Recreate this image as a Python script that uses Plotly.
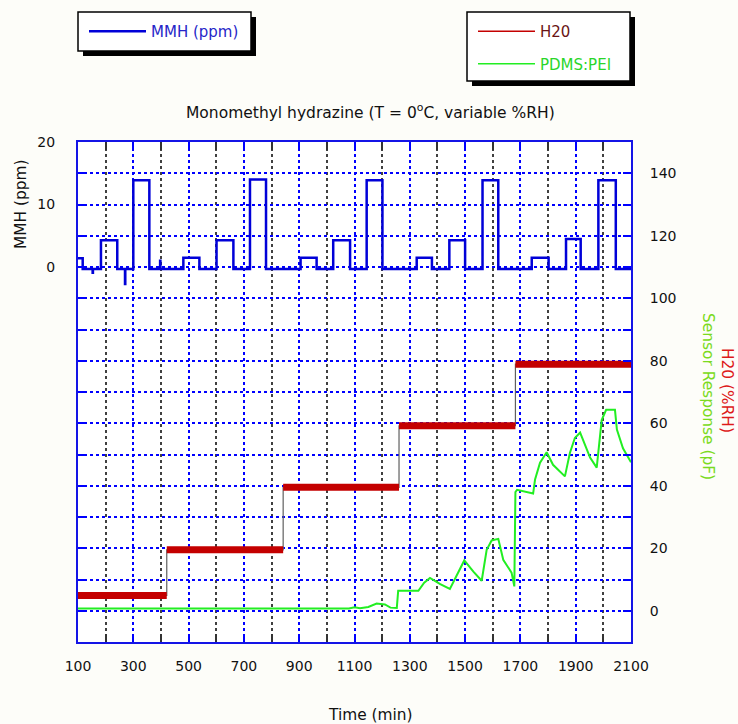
import plotly.graph_objects as go

# ---------------- data ----------------
time_tick0, time_step = 100, 200
mmh_ticks = [0, 10, 20]

# MMH concentration (ppm), step trace: value holds from t[i] to t[i+1]
mmh_t = [100, 117, 153, 154, 183, 242, 270, 271, 300, 358, 397, 398,
         481, 539, 601, 662, 722, 780, 905, 963, 1023, 1084, 1144, 1201,
         1325, 1380, 1443, 1500, 1563, 1620, 1741, 1802, 1865, 1918,
         1982, 2045, 2100]
mmh_v = [1.4, -0.3, -0.9, -0.3, 4.3, -0.3, -2.7, -0.3, 13.9, -0.3, 1.0, -0.3,
         1.5, -0.3, 4.3, -0.3, 14.0, -0.3, 1.5, -0.3, 4.3, -0.3, 13.9, -0.3,
         1.5, -0.3, 4.3, -0.3, 13.9, -0.3, 1.5, -0.3, 4.5, -0.3,
         13.9, -0.3, -0.3]

# Humidity (%RH), step trace
h2o_t = [100, 421, 842, 1261, 1682, 2100]
h2o_v = [4.9, 19.5, 39.5, 59.2, 78.9, 78.9]

# PDMS:PEI sensor response (pF)
pdms_t = [100, 1080, 1100, 1120, 1150, 1180, 1210, 1230, 1253, 1258, 1331,
          1352, 1373, 1410, 1445, 1470, 1497, 1530, 1560, 1578, 1596, 1620,
          1638, 1668, 1678, 1682, 1688, 1746, 1753, 1771, 1795, 1818, 1843,
          1861, 1879, 1897, 1916, 1934, 1952, 1976, 1984, 1994, 2010, 2042,
          2049, 2071, 2100]
pdms_v = [0.7, 0.7, 1.1, 0.8, 1.2, 2.3, 2.0, 1.0, 0.9, 6.4, 6.4,
          9.0, 10.5, 8.5, 7.0, 11.5, 16.1, 12.5, 9.6, 19.5, 22.5, 23.0,
          16.3, 12.2, 7.8, 38.0, 38.7, 37.5, 42.0, 47.4, 50.7, 46.7, 44.6,
          43.0, 50.5, 55.3, 57.0, 53.0, 49.0, 45.8, 53.7, 61.0, 64.3, 64.3,
          58.0, 52.0, 47.5]

# ---------------- layout geometry ----------------
W, H = 738, 724
L, R, T, B = 78, 107, 142, 82
PW, PH = W - L - R, H - T - B


def fx(px):
    return (px - L) / PW


def fy(py):
    return (H - B - py) / PH


FONT = "DejaVu Sans"
BLUE = "#0000ff"
BORDER = "#1414e6"
RED = "#c40000"
GREEN = "#22ee22"

fig = go.Figure()

fig.add_trace(go.Scatter(
    x=mmh_t, y=mmh_v, mode="lines", name="MMH (ppm)",
    line=dict(color="#0000d8", width=2.5, shape="hv"),
    yaxis="y", legend="legend", hoverinfo="skip"))

# thin connector of the humidity steps
fig.add_trace(go.Scatter(
    x=h2o_t, y=h2o_v, mode="lines", showlegend=False,
    line=dict(color="#606060", width=1.2, shape="hv"),
    yaxis="y2", hoverinfo="skip"))

# thick humidity plateaus
seg_x, seg_y = [], []
for i in range(len(h2o_t) - 1):
    seg_x += [h2o_t[i], h2o_t[i + 1], None]
    seg_y += [h2o_v[i], h2o_v[i], None]
fig.add_trace(go.Scatter(
    x=seg_x, y=seg_y, mode="lines", showlegend=False, connectgaps=False,
    line=dict(color=RED, width=7), yaxis="y2", hoverinfo="skip"))

fig.add_trace(go.Scatter(
    x=pdms_t, y=pdms_v, mode="lines", showlegend=False,
    line=dict(color=GREEN, width=2), yaxis="y2", hoverinfo="skip"))

# legend-only entries
fig.add_trace(go.Scatter(
    x=[None], y=[None], mode="lines",
    name="<span style='color:#6a1414'>H20</span>",
    line=dict(color=RED, width=1.5), yaxis="y2",
    legend="legend2", legendgroup="a"))
fig.add_trace(go.Scatter(
    x=[None], y=[None], mode="lines",
    name="<span style='color:#2ad62a'>PDMS:PEI</span>",
    line=dict(color=GREEN, width=1.5), yaxis="y2",
    legend="legend2", legendgroup="b"))

# legend boxes with drop shadows
shapes = []
for (x0, y0, x1, y1) in [(78, 12, 251, 51), (467, 12, 630, 81)]:
    shapes.append(dict(type="rect", xref="paper", yref="paper",
                       x0=fx(x0 + 5), x1=fx(x1 + 5), y0=fy(y1 + 5), y1=fy(y0 + 5),
                       fillcolor="black", line=dict(width=0), layer="above"))
    shapes.append(dict(type="rect", xref="paper", yref="paper",
                       x0=fx(x0), x1=fx(x1), y0=fy(y1), y1=fy(y0),
                       fillcolor="white", line=dict(color="black", width=1.5),
                       layer="above"))

tickfont = dict(family=FONT, size=14, color="#111111")


def ann(text, px, py, angle=0, color="#111111", size=15.4):
    return dict(text=text, xref="paper", yref="paper", x=fx(px), y=fy(py),
                xanchor="center", yanchor="middle", textangle=angle,
                showarrow=False, font=dict(family=FONT, size=size, color=color))


fig.update_layout(
    width=W, height=H,
    margin=dict(l=L, r=R, t=T, b=B, pad=0, autoexpand=False),
    paper_bgcolor="#fdfdf9", plot_bgcolor="white",
    font=dict(family=FONT, size=14, color="#111111"),
    shapes=shapes,
    xaxis=dict(
        range=[100, 2100], tickmode="linear", tick0=time_tick0, dtick=time_step,
        showline=True, linecolor=BORDER, linewidth=2, mirror="ticks",
        ticks="inside", ticklen=8, tickwidth=2, tickcolor=BLUE,
        showgrid=True, gridcolor=BLUE, gridwidth=2, griddash="3px,3px",
        minor=dict(tick0=time_tick0, dtick=100, ticks="inside", ticklen=8,
                   tickwidth=2, tickcolor="#333333", showgrid=True,
                   gridcolor="#404040", gridwidth=2, griddash="3px,3px"),
        zeroline=False, tickfont=tickfont, ticklabelstandoff=10,
        tickangle=0, automargin=False),
    yaxis=dict(
        range=[-60, 20], tickmode="array", tickvals=mmh_ticks,
        showgrid=False, zeroline=False, showline=True, linecolor=BORDER,
        linewidth=2, ticks="", tickfont=tickfont, ticklabelstandoff=18,
        automargin=False),
    yaxis2=dict(
        range=[-10, 150], overlaying="y", side="right",
        tickmode="linear", tick0=0, dtick=20,
        showline=True, linecolor=BORDER, linewidth=2, mirror="ticks",
        ticks="inside", ticklen=8, tickwidth=2, tickcolor=BLUE,
        showgrid=True, gridcolor=BLUE, gridwidth=2, griddash="3px,3px",
        minor=dict(tick0=0, dtick=10, ticks="inside", ticklen=8, tickwidth=2,
                   tickcolor=BLUE, showgrid=True, gridcolor=BLUE,
                   gridwidth=2, griddash="3px,3px"),
        zeroline=False, tickfont=tickfont, ticklabelstandoff=14,
        automargin=False),
    yaxis3=dict(
        range=[-10, 150], overlaying="y", side="right", tickmode="linear",
        tick0=10, dtick=40, showticklabels=False, ticks="",
        showgrid=True, gridcolor=BORDER, gridwidth=1.5, zeroline=False,
        showline=False, automargin=False),
    legend=dict(xref="container", yref="container", x=84 / W, y=1 - 15 / H,
                xanchor="left", yanchor="top", bgcolor="rgba(0,0,0,0)",
                borderwidth=0, font=dict(family=FONT, size=15, color="#2626c8"),
                itemwidth=57),
    legend2=dict(xref="container", yref="container", x=473 / W, y=1 - 15 / H,
                 xanchor="left", yanchor="top", bgcolor="rgba(0,0,0,0)",
                 borderwidth=0, font=dict(family=FONT, size=15),
                 itemwidth=57, tracegroupgap=10),
    annotations=[
        ann("Monomethyl hydrazine (T = 0<sup>o</sup>C, variable %RH)", 370, 112,
            size=15.5),
        ann("Time (min)", 370, 715),
        ann("MMH (ppm)", 21, 204, angle=-90),
        ann("Sensor Response (pF)", 708, 396, angle=90, color="#7ada20"),
        ann("H20 (%RH)", 727, 390, angle=90, color="#dd1a1a"),
    ],
)

fig.write_html("out.html")
